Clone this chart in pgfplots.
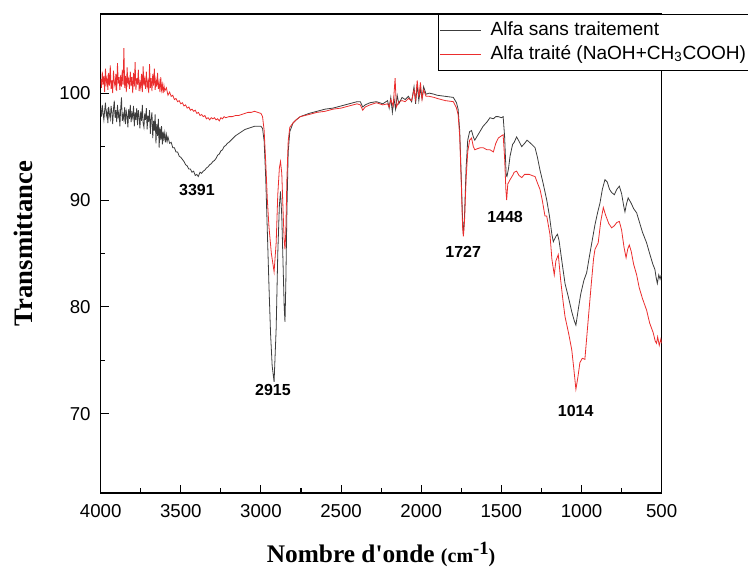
\documentclass[border=0pt]{standalone}
\usepackage{fontspec}
\setmainfont{Liberation Sans}
\newfontfamily\timesfont{Liberation Serif}
\usepackage{pgfplots}
\usepackage{pgfplotstable}
\pgfplotsset{compat=1.18}
\definecolor{sansT}{RGB}{60,60,60}
\definecolor{traite}{RGB}{235,45,45}

\pgfplotstableread{
x y
4000 98.6
3995 97.8
3990 98.9
3985 98.1
3980 97.5
3975 98.4
3970 99.1
3965 97.9
3960 98.3
3955 97.2
3950 98.7
3945 98.0
3940 97.6
3935 98.8
3930 98.2
3925 97.1
3920 98.5
3915 99.3
3910 97.7
3905 98.4
3900 97.3
3895 98.9
3890 97.8
3885 98.2
3880 96.9
3875 98.6
3870 99.6
3865 97.4
3860 98.0
3855 97.5
3850 98.7
3845 97.1
3840 98.3
3835 97.9
3830 96.8
3825 98.5
3820 97.6
3815 98.9
3810 97.3
3805 98.1
3800 97.7
3795 98.8
3790 96.9
3785 98.2
3780 97.5
3775 98.6
3770 97.0
3765 98.4
3760 97.8
3755 96.7
3750 98.3
3745 97.4
3740 98.9
3735 97.2
3730 96.8
3725 98.1
3720 97.5
3715 98.6
3710 96.6
3705 97.9
3700 97.3
3695 98.4
3690 96.2
3685 97.6
3680 98.2
3675 95.8
3670 97.4
3665 96.5
3660 98.0
3655 95.3
3650 97.1
3645 96.0
3640 97.6
3635 94.9
3630 96.8
3625 95.6
3620 96.9
3615 95.2
3610 96.4
3605 95.7
3600 96.3
3595 95.4
3590 96.1
3585 95.5
3580 95.9
3570 95.3
3560 95.4
3550 94.9
3540 94.9
3530 94.5
3520 94.5
3510 94.1
3500 94.0
3490 93.8
3480 93.6
3470 93.3
3460 93.2
3450 92.9
3440 92.9
3430 92.6
3420 92.7
3410 92.3
3400 92.4
3391 92.2
3380 92.6
3370 92.5
3360 92.7
3350 92.8
3340 93.0
3330 93.1
3320 93.3
3310 93.4
3300 93.6
3290 93.7
3280 93.9
3270 94.2
3260 94.3
3250 94.6
3240 94.7
3230 95.0
3220 95.1
3210 95.3
3200 95.4
3180 95.7
3160 96.0
3140 96.2
3120 96.4
3100 96.6
3080 96.7
3060 96.8
3040 96.9
3020 96.9
3000 96.9
2990 96.7
2980 95.5
2970 92.0
2960 87.0
2950 82.0
2940 77.5
2930 74.5
2918 73.0
2905 78.0
2895 85.0
2885 89.5
2878 90.8
2870 88.5
2862 84.0
2855 80.0
2850 78.6
2845 82.0
2838 89.0
2830 94.5
2820 96.4
2800 97.2
2780 97.5
2755 97.8
2700 98.1
2650 98.3
2600 98.5
2550 98.6
2500 98.8
2450 99.0
2400 99.2
2380 99.2
2365 98.7
2350 98.9
2320 99.1
2280 99.2
2240 99.0
2210 99.3
2200 98.6
2190 99.6
2180 98.2
2170 99.5
2160 98.5
2150 99.8
2140 99.0
2120 99.6
2100 99.4
2080 99.7
2060 99.2
2045 100.6
2035 99.0
2025 100.8
2015 99.3
2005 100.4
1995 99.5
1985 100.6
1970 99.9
1950 100.0
1920 99.9
1900 99.8
1850 99.7
1800 99.6
1780 99.1
1770 98.5
1760 96.5
1750 92.0
1742 88.0
1737 86.8
1730 88.5
1720 93.0
1710 95.6
1698 96.4
1686 96.5
1675 95.9
1666 95.6
1650 96.0
1630 96.5
1614 96.9
1590 97.3
1571 97.7
1550 97.6
1535 97.8
1519 97.8
1500 97.7
1489 97.8
1480 96.0
1470 92.3
1465 92.2
1455 93.0
1446 94.1
1430 95.2
1420 95.4
1405 95.9
1390 95.5
1373 95.0
1355 95.3
1340 95.6
1332 95.5
1310 95.2
1290 94.9
1275 94.0
1259 92.8
1240 91.6
1217 90.0
1200 88.5
1185 86.8
1176 86.1
1160 86.6
1150 86.8
1140 86.2
1120 84.0
1103 82.2
1080 80.8
1060 79.5
1045 78.7
1035 78.3
1020 79.8
1005 81.2
999 81.6
985 82.5
968 83.2
950 84.8
930 86.5
916 87.7
900 88.8
885 89.7
870 91.0
854 91.9
840 91.7
825 91.0
812 90.7
795 90.5
780 91.0
764 91.3
750 90.6
735 89.3
729 88.9
720 89.6
709 90.2
690 89.7
675 89.2
656 88.8
640 88.0
620 87.0
594 86.0
575 85.0
555 84.0
542 83.5
535 82.8
527 82.2
518 83.0
510 82.6
503 83.0
}\sanstable

\pgfplotstableread{
x y
4000 101.3
3995 100.5
3990 102.0
3985 100.8
3980 101.6
3975 100.1
3970 102.3
3965 100.9
3960 101.4
3955 100.3
3950 101.9
3945 100.7
3940 102.6
3935 100.4
3930 101.2
3925 100.0
3920 102.1
3915 101.0
3910 100.6
3905 101.8
3900 100.2
3895 102.8
3890 100.9
3885 101.5
3880 100.3
3875 101.7
3870 100.6
3865 102.2
3860 100.8
3855 104.2
3850 100.5
3845 101.6
3840 100.1
3835 102.4
3830 100.9
3825 101.3
3820 100.4
3815 102.0
3810 100.7
3805 101.5
3800 100.0
3795 101.9
3790 100.6
3785 102.9
3780 100.3
3775 101.4
3770 100.8
3765 102.2
3760 100.2
3755 101.0
3750 100.5
3745 101.8
3740 100.1
3735 102.5
3730 100.7
3725 101.3
3720 100.4
3715 102.0
3710 100.6
3705 101.1
3700 100.0
3695 102.7
3690 100.5
3685 101.4
3680 100.2
3675 101.8
3670 100.7
3665 102.3
3660 100.3
3655 101.2
3650 100.6
3645 101.9
3640 100.4
3635 101.0
3630 100.1
3625 101.5
3620 100.3
3615 100.8
3610 100.0
3605 100.7
3600 100.2
3590 100.5
3580 99.8
3570 100.1
3560 99.7
3550 99.8
3540 99.4
3530 99.5
3520 99.2
3510 99.3
3500 99.0
3490 99.1
3480 98.8
3470 98.9
3460 98.6
3450 98.7
3440 98.4
3430 98.5
3420 98.3
3410 98.4
3400 98.1
3390 98.2
3380 97.9
3370 98.0
3360 97.8
3350 97.9
3340 97.6
3330 97.7
3320 97.5
3310 97.7
3300 97.6
3290 97.7
3280 97.5
3270 97.6
3260 97.4
3250 97.7
3240 97.6
3230 97.8
3220 97.7
3200 97.8
3180 97.8
3160 97.9
3140 97.9
3120 98.0
3100 98.1
3080 98.2
3060 98.2
3040 98.3
3020 98.2
3000 98.1
2990 97.8
2980 96.5
2970 93.5
2960 90.0
2950 87.5
2935 85.0
2918 83.3
2905 86.0
2895 90.5
2885 93.0
2878 93.6
2870 92.5
2862 89.0
2855 86.2
2850 85.4
2845 87.0
2838 92.0
2830 95.5
2820 96.8
2800 97.2
2780 97.5
2755 97.8
2700 98.0
2650 98.2
2600 98.3
2550 98.5
2500 98.6
2450 98.8
2400 99.0
2380 98.9
2365 98.4
2350 98.7
2320 98.9
2280 99.1
2240 98.9
2210 99.0
2200 98.7
2190 99.4
2175 98.8
2163 101.4
2155 98.7
2140 99.2
2120 99.3
2100 99.2
2080 99.5
2060 99.3
2045 100.3
2035 99.4
2025 101.2
2015 99.6
2005 101.0
1995 99.4
1985 100.3
1970 99.7
1950 99.7
1920 99.6
1900 99.5
1850 99.3
1800 99.2
1780 98.6
1770 98.0
1760 96.0
1750 91.5
1742 87.5
1737 86.6
1730 88.0
1720 92.0
1710 94.5
1698 95.6
1686 95.8
1675 95.0
1666 94.7
1650 94.8
1630 94.9
1614 94.9
1590 94.7
1571 94.7
1550 94.5
1535 95.3
1519 95.8
1500 96.0
1489 96.1
1480 94.0
1472 91.0
1467 90.0
1460 91.5
1446 91.9
1430 92.3
1420 92.6
1405 92.7
1390 92.3
1373 92.1
1355 92.4
1340 92.4
1326 92.4
1310 92.3
1290 92.2
1275 91.6
1259 91.0
1245 90.0
1228 88.5
1217 88.5
1197 86.8
1185 84.5
1170 83.0
1160 84.3
1145 84.9
1130 82.5
1115 80.5
1103 79.1
1080 77.5
1061 76.0
1050 74.5
1035 72.3
1022 73.5
1010 74.8
995 75.2
979 75.1
960 78.5
940 82.0
925 84.5
916 85.4
896 86.0
880 88.0
864 89.3
850 88.6
830 87.8
812 87.4
795 87.6
780 87.9
764 88.0
750 87.2
735 85.6
722 84.6
712 85.4
702 85.8
690 85.2
675 84.0
656 83.0
640 81.8
620 80.8
594 79.7
575 78.5
553 77.6
540 76.8
532 76.6
525 77.2
515 76.4
505 77.0
500 76.6
}\traitetable

\begin{document}
\begin{tikzpicture}[x=1pt,y=1pt]
\useasboundingbox (-75.5,-56.25) rectangle (485.5,369.75);
\begin{axis}[
  at={(0,0)}, anchor=south west,
  width=420.75pt, height=359.25pt, scale only axis,
  x dir=reverse,
  xmin=500, xmax=4000, ymin=62.6, ymax=107.4,
  xtick={500,1000,...,4000}, ytick={70,80,90,100},
  minor x tick num=1, minor y tick num=1,
  xtick pos=bottom, ytick pos=left,
  tick align=inside,
  major tick length=6pt, minor tick length=3.5pt,
  every tick/.style={black, line width=0.8pt},
  axis line style={line width=0.8pt},
  ticklabel style={font=\fontsize{14}{16}\selectfont},
  xticklabel style={yshift=-5pt},
  yticklabel style={xshift=-4pt},
  /pgf/number format/assume math mode=true,
  /pgf/number format/1000 sep={},
  xlabel={\timesfont\bfseries\fontsize{19}{22}\selectfont Nombre d'onde {\fontsize{15}{18}\selectfont (cm\raisebox{6pt}{\fontsize{14}{16}\selectfont -1})}},
  ylabel={\timesfont\bfseries\fontsize{20}{24}\selectfont Transmittance},
  xlabel style={at={(axis description cs:0.5,-0.128)}, anchor=center},
  ylabel style={at={(axis description cs:-0.1385,0.521)}, anchor=center},
  legend style={at={(axis description cs:0.601,1)}, anchor=north west,
    draw=black, line width=0.5pt, fill=white,
    font=\fontsize{14.3}{16}\selectfont,
    inner xsep=1pt, inner ysep=3pt, row sep=0pt,
    nodes={text height=10.5pt, text depth=3.5pt, inner ysep=2pt},
    /tikz/every odd column/.append style={column sep=5pt}},
  legend cell align=left,
  legend image code/.code={\draw[#1, line width=0.6pt] (0pt,0pt) -- (30.75pt,0pt);},
]
\addplot[sansT, line width=0.6pt] table[x=x,y=y] {\sanstable};
\addlegendentry{Alfa sans traitement}
\addplot[traite, line width=0.6pt] table[x=x,y=y] {\traitetable};
\addlegendentry{Alfa traité (NaOH+CH\textsubscript{3}COOH)}

\node[font=\bfseries\fontsize{12}{14}\selectfont] at (axis cs:3399,90.94) {3391};
\node[font=\bfseries\fontsize{12}{14}\selectfont] at (axis cs:2925,72.2) {2915};
\node[font=\bfseries\fontsize{12}{14}\selectfont] at (axis cs:1738,85.15) {1727};
\node[font=\bfseries\fontsize{12}{14}\selectfont] at (axis cs:1477,88.4) {1448};
\node[font=\bfseries\fontsize{12}{14}\selectfont] at (axis cs:1036,70.3) {1014};
\end{axis}
\end{tikzpicture}
\end{document}
